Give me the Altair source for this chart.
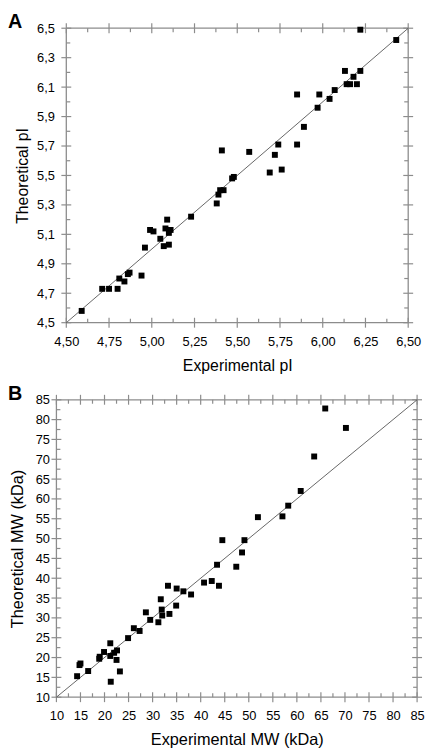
import altair as alt
import pandas as pd

# ---- Panel A: isoelectric point ----
pi_exp = [6.22, 6.43, 6.13, 6.22, 6.18, 6.14, 6.16, 6.20, 6.07, 6.04, 5.85, 5.98,
          5.97, 5.89, 5.74, 5.85, 5.72, 5.76, 5.69, 5.41, 5.57, 5.47, 5.48,
          4.59, 4.71, 4.75, 4.80, 4.81, 4.84, 4.86, 4.87, 4.94, 4.96, 4.99, 5.01,
          5.05, 5.07, 5.08, 5.09, 5.10, 5.10, 5.11, 5.23, 5.38, 5.39, 5.40, 5.42]
pi_theo = [6.49, 6.42, 6.21, 6.21, 6.17, 6.12, 6.12, 6.12, 6.08, 6.02, 6.05, 6.05,
           5.96, 5.83, 5.71, 5.71, 5.64, 5.54, 5.52, 5.67, 5.66, 5.48, 5.49,
           4.58, 4.73, 4.73, 4.73, 4.80, 4.78, 4.83, 4.84, 4.82, 5.01, 5.13, 5.12,
           5.07, 5.02, 5.14, 5.20, 5.11, 5.03, 5.13, 5.22, 5.31, 5.37, 5.40, 5.40]

# ---- Panel B: molecular weight (kDa) ----
mw_exp = [65.9, 70.2, 63.6, 60.8, 58.2, 57.0, 51.9, 44.5, 49.1, 48.6, 43.4, 47.4,
          40.7, 42.3, 43.8, 38.0, 36.4, 35.0, 33.2, 34.9, 31.7, 31.9, 32.0, 33.5,
          31.2, 28.6, 29.5, 27.3, 26.1, 24.9, 21.2, 22.6, 22.0, 21.2, 22.5, 19.9,
          19.0, 18.9, 23.2, 21.3, 16.6, 15.0, 14.8, 14.3]
mw_theo = [82.8, 77.9, 70.7, 62.0, 58.3, 55.6, 55.4, 49.6, 49.6, 46.5, 43.4, 42.9,
           38.9, 39.3, 38.1, 35.9, 36.7, 37.4, 38.1, 33.1, 34.7, 32.1, 30.6, 31.0,
           28.9, 31.4, 29.5, 26.7, 27.4, 24.9, 23.6, 21.8, 21.2, 20.4, 19.4, 21.4,
           20.2, 19.7, 16.5, 13.9, 16.6, 18.5, 18.1, 15.3]

pi_domain = [4.5, 6.5]
pi_x_ticks = [4.5, 4.75, 5.0, 5.25, 5.5, 5.75, 6.0, 6.25, 6.5]
pi_y_ticks = [4.5, 4.7, 4.9, 5.1, 5.3, 5.5, 5.7, 5.9, 6.1, 6.3, 6.5]
mw_domain = [10, 85]
mw_ticks = [10, 15, 20, 25, 30, 35, 40, 45, 50, 55, 60, 65, 70, 75, 80, 85]

FONT = "Liberation Sans"
FRAME = "#8c8c8c"


def minors(major):
    return [(a + b) / 2 for a, b in zip(major[:-1], major[1:])]


def panel(xs, ys, dom, xt, yt, xfmt, yfmt, width, height, xrange, yoffset,
          letter, xtitle, ytitle, tsize, ylabpad, ytitlepad):
    d0, d1 = dom
    pts = pd.DataFrame({"x": xs, "y": ys})
    xs_kw = dict(domain=dom, nice=False, zero=False)
    if xrange is not None:
        xs_kw["range"] = xrange
    xscale = alt.Scale(**xs_kw)
    yscale = alt.Scale(domain=dom, nice=False, zero=False)

    xax = alt.Axis(values=xt, labelExpr=xfmt, domain=False, ticks=False, tickSize=0,
                   grid=False, labelPadding=13, title=xtitle, titlePadding=9,
                   titleFontSize=tsize, labelFontSize=13, labelFlush=False,
                   labelOverlap=False)
    yax = alt.Axis(values=yt, labelExpr=yfmt, domain=False, ticks=False, tickSize=0,
                   grid=False, labelPadding=ylabpad, offset=yoffset, title=ytitle,
                   titlePadding=ytitlepad, titleFontSize=tsize, labelFontSize=13,
                   labelFlush=False, labelOverlap=False)

    def X(f):
        return alt.X(f, scale=xscale, axis=xax)

    def Y(f):
        return alt.Y(f, scale=yscale, axis=yax)

    points = alt.Chart(pts).mark_square(size=36, color="black", opacity=1).encode(
        x=X("x:Q"), y=Y("y:Q"))

    frame_df = pd.DataFrame({"x": [d0, d0, d0, d1], "x2": [d1, d1, d0, d1],
                             "y": [d0, d1, d0, d0], "y2": [d0, d1, d1, d1]})
    frame = alt.Chart(frame_df).mark_rule(color=FRAME, strokeWidth=1.3).encode(
        x=X("x:Q"), x2="x2:Q", y=Y("y:Q"), y2="y2:Q")

    diag_df = pd.DataFrame({"x": [d0], "x2": [d1], "y": [d0], "y2": [d1]})
    diag = alt.Chart(diag_df).mark_rule(color="#555555", strokeWidth=0.9).encode(
        x=X("x:Q"), x2="x2:Q", y=Y("y:Q"), y2="y2:Q")

    xmaj = pd.DataFrame({"v": xt})
    xmin_ = pd.DataFrame({"v": minors(xt)})
    ymaj = pd.DataFrame({"v": yt})
    ymin_ = pd.DataFrame({"v": minors(yt)})

    def xtick(df, at, o1, o2):
        return alt.Chart(df).mark_rule(color=FRAME, strokeWidth=1.2,
                                       yOffset=o1, y2Offset=o2).encode(
            x=X("v:Q"),
            y=alt.YDatum(at, scale=yscale, axis=yax), y2=alt.datum(at))

    def ytick(df, at, o1, o2):
        return alt.Chart(df).mark_rule(color=FRAME, strokeWidth=1.2,
                                       xOffset=o1, x2Offset=o2).encode(
            y=Y("v:Q"),
            x=alt.XDatum(at, scale=xscale, axis=xax), x2=alt.datum(at))

    ticks = [
        xtick(xmaj, d0, 5, -5), xtick(xmin_, d0, 0, -4),
        xtick(xmaj, d1, -5, 5), xtick(xmin_, d1, 0, 4),
        ytick(ymaj, d0, -5, 5), ytick(ymin_, d0, 0, 4),
        ytick(ymaj, d1, -5, 5), ytick(ymin_, d1, 0, -4),
    ]

    lab = alt.Chart(pd.DataFrame({"t": [letter]})).mark_text(
        align="left", baseline="top", fontSize=20, fontWeight="bold",
        font=FONT, color="black").encode(
        text="t:N", x=alt.value(-49), y=alt.value(-16))

    return alt.layer(frame, *ticks, diag, points, lab).properties(
        width=width, height=height)


pi_fmt = "replace(format(datum.value, '.2f'), '.', ',')"
pi_yfmt = "replace(format(datum.value, '.1f'), '.', ',')"
mw_fmt = "format(datum.value, 'd')"

chart_a = panel(pi_exp, pi_theo, pi_domain, pi_x_ticks, pi_y_ticks, pi_fmt, pi_yfmt,
                356, 298, [10, 356], -10, "A", "Experimental pI", "Theoretical pI",
                16, 12, 6)
chart_b = panel(mw_exp, mw_theo, mw_domain, mw_ticks, mw_ticks, mw_fmt, mw_fmt,
                365, 301, None, 0, "B", "Experimental MW (kDa)",
                "Theoretical MW (kDa)", 16.5, 7, 10)

chart = alt.VConcatChart(vconcat=[chart_a, chart_b], spacing=11,
                         padding={"left": 0, "top": 0, "right": 0, "bottom": 0}
                         ).configure_view(stroke=None).configure_axis(
    labelFont=FONT, titleFont=FONT, labelColor="black", titleColor="black",
    titleFontWeight="normal")

chart.save("out.html", embed_options={"renderer": "svg", "actions": False})
